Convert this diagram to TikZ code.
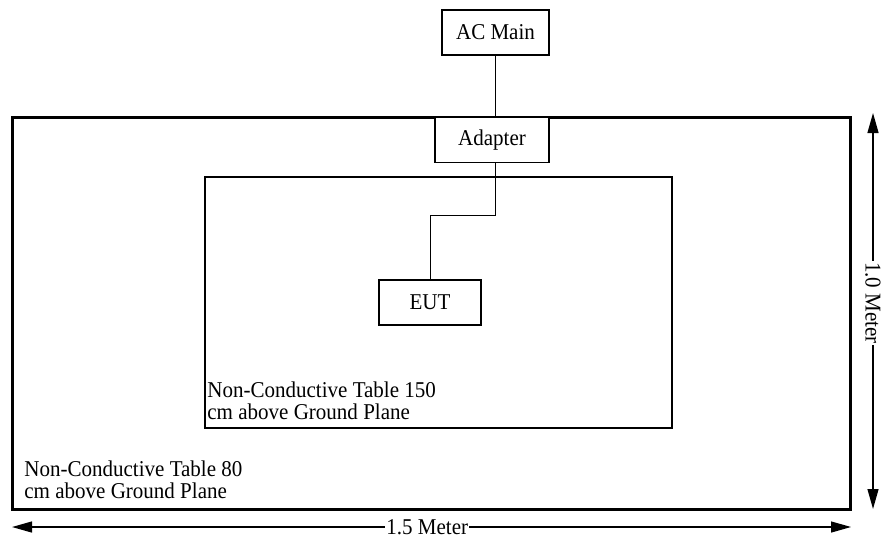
\documentclass[tikz,border=0pt]{standalone}
\usepackage{fontspec}
\setmainfont{Liberation Serif}[FakeStretch=0.93]
\usetikzlibrary{arrows.meta,positioning}

\begin{document}
\begin{tikzpicture}[
    x=0.5pt, y=-0.5pt,
    font=\fontsize{11.3}{11}\selectfont,
    box/.style={draw, line width=0.65pt, minimum height=22.5pt, inner sep=0pt},
    tablebox/.style={draw, inner sep=0pt},
    cable/.style={line width=0.5pt},
    dim/.style={{Triangle[length=10pt,width=5.5pt]}-{Triangle[length=10pt,width=5.5pt]}, line width=0.65pt},
    dimlabel/.style={fill=white, inner sep=0.5pt},
    tabletext/.style={align=left, inner sep=0pt, anchor=north west}
]
\useasboundingbox (0,0) rectangle (881,541);

% Tables
\node[tablebox, line width=1.5pt, minimum width=419pt, minimum height=196pt] (table80) at (431.5,313) {};
\node[tablebox, line width=0.6pt, minimum width=233.5pt, minimum height=125.5pt] (table150) at (438.5,302.5) {};

% Equipment
\node[box, minimum width=53.5pt] (acmain) at (495.5,32.5) {AC Main};
\node[box, minimum width=57pt, fill=white] (adapter) at (492,140) {Adapter};
\node[box, minimum width=51pt] (eut) at (430,302.5) {EUT};

% Cables
\coordinate (bend) at (430,215);
\draw[cable] (acmain.south) -- (acmain.south |- adapter.north);
\draw[cable] (adapter.south -| acmain.south) |- (bend) -- (eut.north);

% Table labels
\node[tabletext] (label150) at (207,381) {Non-Conductive Table 150\\cm above Ground Plane};
\node[tabletext] (label80) at (24,460) {Non-Conductive Table 80\\cm above Ground Plane};

% Dimensions
\coordinate (wl) at (12,527);
\coordinate (wr) at (851,527);
\draw[dim] (wl) -- (wr) node[dimlabel, pos=0.495] (width) {1.5 Meter};
\coordinate (ht) at (873,113);
\coordinate (hb) at (873,509);
\draw[dim] (ht) -- (hb) node[dimlabel, pos=0.48, rotate=-90] (height) {1.0 Meter};

\end{tikzpicture}
\end{document}
